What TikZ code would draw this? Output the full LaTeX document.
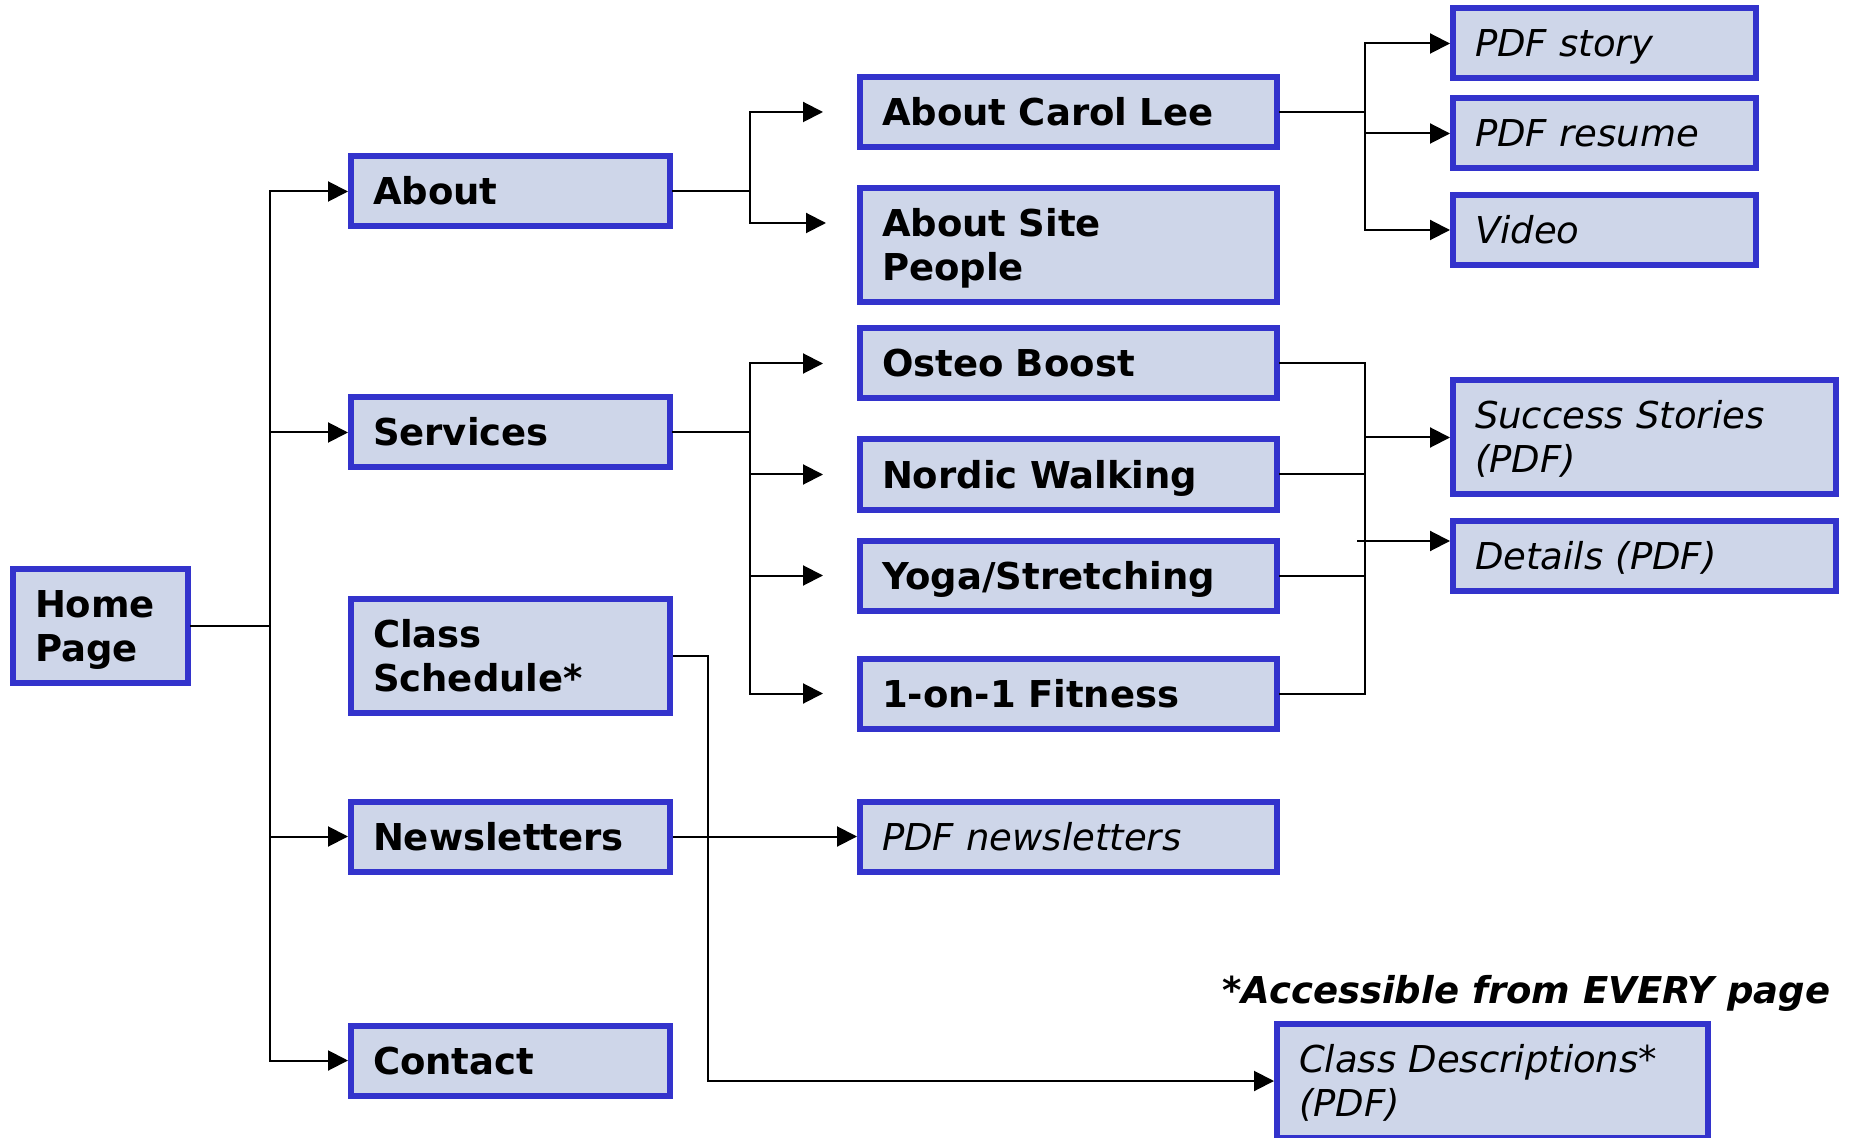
\documentclass[tikz,border=0pt]{standalone}
\usepackage{fontspec}
\setmainfont{DejaVu Sans}
\usetikzlibrary{arrows.meta}
\definecolor{boxfill}{HTML}{CED6E9}
\definecolor{boxline}{HTML}{3333CC}
\tikzset{
  box/.style={draw=boxline, fill=boxfill, line width=3pt, inner xsep=11pt, inner ysep=0pt,
    align=left, text height=13.5pt},
  bx/.style={box, font=\fontsize{18.5}{22}\selectfont\bfseries},
  ix/.style={box, font=\fontsize{18.5}{22}\selectfont\itshape},
  one/.style={text depth=0pt},
  two/.style={text depth=22pt},
  wh/.style={minimum width=87.5pt, text width=65.5pt},
  wa/.style={minimum width=159.5pt, text width=137.5pt},
  wb/.style={minimum width=208.5pt, text width=186.5pt},
  wc/.style={minimum width=151.5pt, text width=129.5pt},
  wd/.style={minimum width=191.5pt, text width=169.5pt},
  we/.style={minimum width=215.5pt, text width=193.5pt},
  hs/.style={minimum height=35pt, one},
  hd/.style={minimum height=57pt, two},
  conn/.style={line width=1pt, line cap=rect},
  arr/.style={line width=1pt, -{Triangle[length=10pt,width=10pt]}}
}
\begin{document}
\begin{tikzpicture}[x=0.5pt,y=-0.5pt]
\useasboundingbox (0,0) rectangle (1856,1138);
% level 0 and 1
\node[bx, wh, hd] (home) at (100.5,626) {Home\\Page};
\node[bx, wa, hs] (about) at (510.5,191.5) {About};
\node[bx, wa, hs] (services) at (510.5,432.5) {Services};
\node[bx, wa, hd] (sched) at (510.5,656) {Class\\Schedule*};
\node[bx, wa, hs] (news) at (510.5,836.5) {Newsletters};
\node[bx, wa, hs] (contact) at (510.5,1060.5) {Contact};
% level 2
\node[bx, wb, hs] (carol) at (1068.5,112) {About Carol Lee};
\node[bx, wb, hd] (people) at (1068.5,245.5) {About Site\\People};
\node[bx, wb, hs] (osteo) at (1068.5,363.5) {Osteo Boost};
\node[bx, wb, hs] (nordic) at (1068.5,474.5) {Nordic Walking};
\node[bx, wb, hs] (yoga) at (1068.5,575.5) {Yoga/Stretching};
\node[bx, wb, hs] (fitness) at (1068.5,693.5) {1-on-1 Fitness};
\node[ix, wb, hs] (pdfnews) at (1068.5,836.5) {PDF newsletters};
% level 3
\node[ix, wc, hs] (story) at (1604.5,43.5) {PDF story};
\node[ix, wc, hs] (resume) at (1604.5,133.5) {PDF resume};
\node[ix, wc, hs] (video) at (1604.5,230) {Video};
\node[ix, wd, hd] (success) at (1644.5,437.5) {Success Stories\\(PDF)};
\node[ix, wd, hs] (details) at (1644.5,556) {Details (PDF)};
\node[ix, we, hd] (cdesc) at (1492.5,1081) {Class Descriptions*\\(PDF)};
\node[font=\fontsize{18.5}{22}\selectfont\bfseries\itshape, anchor=base west, inner sep=0pt]
  (note) at (1222,1003) {*Accessible from EVERY page};
% helper coordinates
\coordinate (tr) at (270,0);
\coordinate (xa) at (750,0);
\coordinate (xs) at (708,0);
\coordinate (xc) at (1365,0);
\coordinate (pplin) at (826,223);
\coordinate (dt) at (1357,541);
% home trunk
\draw[conn] (home.east) -- (tr |- home.east);
\draw[conn] (tr |- about.west) -- (tr |- contact.west);
\foreach \n in {about,services,news,contact}
  \draw[arr] (tr |- \n.west) -- (\n.west);
% about branch
\draw[conn] (about.east) -- (xa |- about.east);
\draw[conn] (xa |- carol.west) -- (xa |- pplin);
\draw[arr] (xa |- carol.west) -- ([xshift=-17pt]carol.west);
\draw[arr] (xa |- pplin) -- (pplin);
% services branch
\draw[conn] (services.east) -- (xa |- services.east);
\draw[conn] (xa |- osteo.west) -- (xa |- fitness.west);
\foreach \n in {osteo,nordic,yoga,fitness}
  \draw[arr] (xa |- \n.west) -- ([xshift=-17pt]\n.west);
% class schedule
\draw[arr] (sched.east) -- (xs |- sched.east) -- (xs |- cdesc.west) -- (cdesc.west);
% newsletters
\draw[arr] (news.east) -- (pdfnews.west);
% carol children
\draw[conn] (carol.east) -- (xc |- carol.east);
\draw[conn] (xc |- story.west) -- (xc |- video.west);
\foreach \n in {story,resume,video}
  \draw[arr] (xc |- \n.west) -- (\n.west);
% services children to PDFs
\foreach \n in {osteo,nordic,yoga,fitness}
  \draw[conn] (\n.east) -- (xc |- \n.east);
\draw[conn] (xc |- osteo.east) -- (xc |- fitness.east);
\draw[arr] (xc |- success.west) -- (success.west);
\draw[arr] (dt) -- (dt -| details.west);
\end{tikzpicture}
\end{document}
